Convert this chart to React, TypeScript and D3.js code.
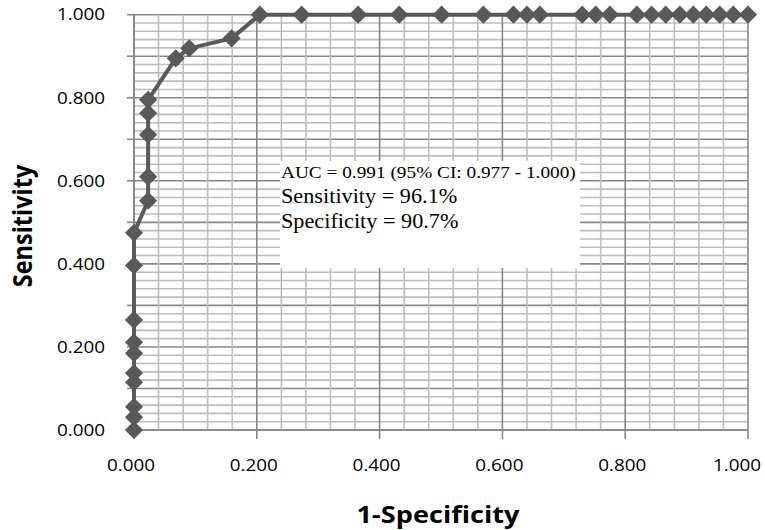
import React, { useEffect, useRef } from 'react';
import * as d3 from 'd3';

// ROC points: 1-specificity (fpr) and sensitivity (tpr)
const fpr = [
  0, 0, 0, 0, 0, 0, 0, 0, 0, 0,
  0.023, 0.023, 0.023, 0.023, 0.023,
  0.068, 0.09, 0.159, 0.205,
  0.273, 0.365, 0.432, 0.501, 0.569,
  0.618, 0.64, 0.661, 0.73, 0.752, 0.775,
  0.819, 0.843, 0.866, 0.889, 0.911, 0.932, 0.954, 0.976, 1.0,
];
const tpr = [
  0, 0.031, 0.056, 0.115, 0.137, 0.185, 0.211, 0.265, 0.396, 0.475,
  0.552, 0.61, 0.711, 0.763, 0.795,
  0.895, 0.919, 0.943, 1.0,
  1, 1, 1, 1, 1,
  1, 1, 1, 1, 1, 1,
  1, 1, 1, 1, 1, 1, 1, 1, 1,
];

const tickValues = [0, 0.2, 0.4, 0.6, 0.8, 1.0];
const annotation = [
  'AUC = 0.991 (95% CI: 0.977 - 1.000)',
  'Sensitivity = 96.1%',
  'Specificity = 90.7%',
];
const xTitle = '1-Specificity';
const yTitle = 'Sensitivity';

const W = 765;
const H = 530;
const SANS = '"Open Sans", "Liberation Sans", sans-serif';
const SERIF = '"Liberation Serif", "Times New Roman", serif';
const STRETCH = 1.18;

const App: React.FC = () => {
  const svgRef = useRef<SVGSVGElement>(null);

  useEffect(() => {
    if (!svgRef.current) return;
    const svg = d3.select(svgRef.current);
    svg.selectAll('*').remove();

    const x = d3.scaleLinear().domain([0, 1]).range([134, 748]);
    const y = d3.scaleLinear().domain([0, 1]).range([430, 14.7]);

    svg.append('rect').attr('width', W).attr('height', H).attr('fill', '#fff');

    const grid = svg.append('g');
    // horizontal grid: minor every 0.02, major every 0.1
    d3.range(0, 51).forEach(i => {
      const v = i / 50;
      const major = i % 5 === 0;
      grid.append('line')
        .attr('x1', x(0)).attr('x2', x(1))
        .attr('y1', y(v)).attr('y2', y(v))
        .attr('stroke', major ? '#878787' : '#bdbdbd')
        .attr('stroke-width', 1.6);
    });
    // vertical grid: minor every 0.04, major every 0.2
    d3.range(0, 26).forEach(i => {
      const v = i / 25;
      const major = i % 5 === 0;
      grid.append('line')
        .attr('x1', x(v)).attr('x2', x(v))
        .attr('y1', y(0)).attr('y2', y(1))
        .attr('stroke', major ? '#878787' : '#bdbdbd')
        .attr('stroke-width', 1.6);
    });

    // axes
    const axis = svg.append('g').attr('stroke', '#868686').attr('stroke-width', 1.6);
    axis.append('line').attr('x1', x(0)).attr('x2', x(0)).attr('y1', y(0)).attr('y2', y(1));
    axis.append('line').attr('x1', x(0)).attr('x2', x(1)).attr('y1', y(0)).attr('y2', y(0));
    d3.range(0, 11).forEach(i => {
      axis.append('line')
        .attr('x1', x(0) - 7).attr('x2', x(0))
        .attr('y1', y(i / 10)).attr('y2', y(i / 10));
    });
    tickValues.forEach(v => {
      axis.append('line')
        .attr('x1', x(v)).attr('x2', x(v))
        .attr('y1', y(0)).attr('y2', y(0) + 9);
    });

    const fmt = d3.format('.3f');
    // y tick labels
    tickValues.forEach(v => {
      svg.append('text')
        .attr('transform', `translate(105, ${y(v)}) scale(${STRETCH}, 1)`)
        .attr('dy', '0.36em')
        .attr('text-anchor', 'end')
        .attr('font-family', SANS)
        .attr('font-size', 16)
        .attr('fill', '#000')
        .text(fmt(v));
    });
    // x tick labels (the last one is held inside the picture, as in the reference)
    tickValues.forEach(v => {
      const cx = Math.min(x(v) - 3, 737);
      svg.append('text')
        .attr('transform', `translate(${cx}, 471) scale(${STRETCH}, 1)`)
        .attr('text-anchor', 'middle')
        .attr('font-family', SANS)
        .attr('font-size', 16)
        .attr('fill', '#000')
        .text(fmt(v));
    });

    // axis titles
    svg.append('text')
      .attr('transform', `translate(438, 523) scale(${STRETCH}, 1)`)
      .attr('text-anchor', 'middle')
      .attr('font-family', SANS)
      .attr('font-weight', 'bold')
      .attr('font-size', 23)
      .text(xTitle);
    svg.append('text')
      .attr('transform', `translate(32, 226) scale(1.1, 1) rotate(-90)`)
      .attr('text-anchor', 'middle')
      .attr('font-family', SANS)
      .attr('font-weight', 'bold')
      .attr('font-size', 23.5)
      .text(yTitle);

    // ROC curve
    const pts = fpr.map((f, i) => [f, tpr[i]] as [number, number]);
    const line = d3.line<[number, number]>().x(d => x(d[0])).y(d => y(d[1]));
    svg.append('path')
      .attr('d', line(pts))
      .attr('fill', 'none')
      .attr('stroke', '#595959')
      .attr('stroke-width', 4)
      .attr('stroke-linejoin', 'round');

    const diamond = d3.symbol().type(d3.symbolSquare).size(165);
    svg.append('g').selectAll('path')
      .data(pts)
      .join('path')
      .attr('d', diamond() as string)
      .attr('transform', d => `translate(${x(d[0])}, ${y(d[1])}) rotate(45)`)
      .attr('fill', '#595959');

    // annotation box
    const box = svg.append('g');
    box.append('rect')
      .attr('x', 280).attr('y', 161)
      .attr('width', 300).attr('height', 107)
      .attr('fill', '#fff');
    annotation.forEach((t, i) => {
      box.append('text')
        .attr('transform', `translate(281, ${178 + i * 25}) scale(${i === 0 ? 1.17 : 1.06}, 1)`)
        .attr('font-family', SERIF)
        .attr('font-size', i === 0 ? 16.5 : 21)
        .attr('fill', '#000')
        .text(t);
    });
  }, []);

  return (
    <svg
      ref={svgRef}
      width={W}
      height={H}
      style={{ position: 'absolute', left: 0, top: 0, display: 'block' }}
    />
  );
};

export default App;
